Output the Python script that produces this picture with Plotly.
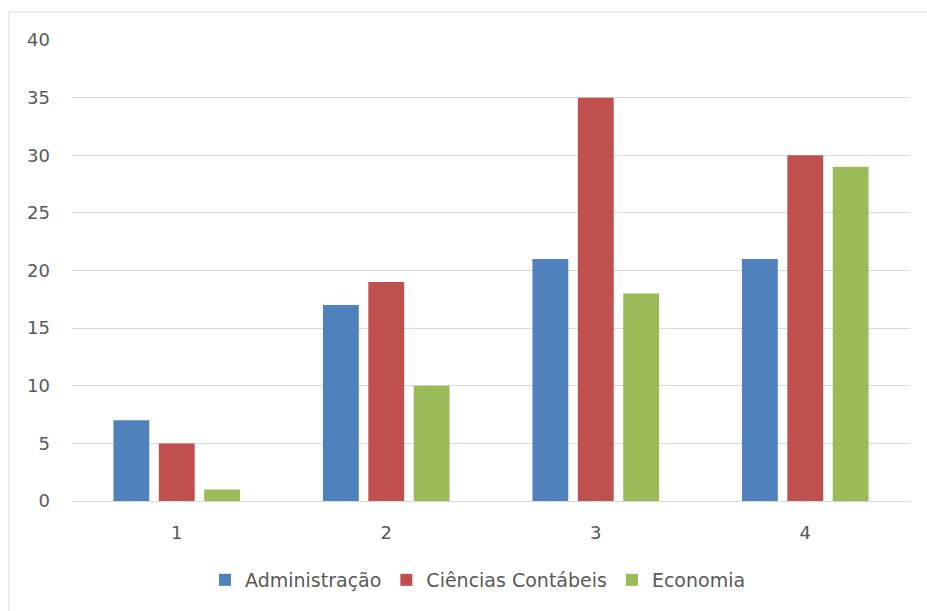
import plotly.graph_objects as go

categories = ["1", "2", "3", "4"]
administracao = [7, 17, 21, 21]
ciencias_contabeis = [5, 19, 35, 30]
economia = [1, 10, 18, 29]
y_ticks = [0, 5, 10, 15, 20, 25, 30, 35, 40]

series = [
    ("Administração", administracao, "#4F81BD"),
    ("Ciências Contábeis", ciencias_contabeis, "#C0504D"),
    ("Economia", economia, "#9BBB59"),
]

FONT = "DejaVu Sans"
TEXT = "#595959"
GRID = "#d9d9d9"

fig = go.Figure()
for name, vals, color in series:
    fig.add_trace(go.Bar(
        x=categories, y=vals, name=name,
        marker=dict(color=color, line=dict(color=color, width=0)),
    ))

W, H = 927, 611
L, R, T, B = 72, 17, 40, 110
pw, ph = W - L - R, H - T - B

def px_x(p):
    return (p - L) / pw

def px_y(p):
    return (H - B - p) / ph

fig.update_layout(
    width=W, height=H,
    margin=dict(l=L, r=R, t=T, b=B),
    paper_bgcolor="white", plot_bgcolor="white",
    barmode="group", bargap=0.35, bargroupgap=0.21,
    font=dict(family=FONT, size=18, color=TEXT),
    showlegend=True,
    legend=dict(
        orientation="h", x=px_x(478), xanchor="center",
        y=px_y(580), yanchor="middle",
        font=dict(family=FONT, size=19, color=TEXT),
        itemwidth=30,
    ),
    xaxis=dict(
        showgrid=False, showline=False, zeroline=False,
        ticks="", tickfont=dict(family=FONT, size=18, color=TEXT),
        ticklabelstandoff=19,
    ),
    yaxis=dict(
        range=[0, 40], tickvals=y_ticks,
        showgrid=True, gridcolor=GRID, gridwidth=1,
        zeroline=True, zerolinecolor=GRID, zerolinewidth=1,
        showline=False, ticks="",
        tickfont=dict(family=FONT, size=18, color=TEXT),
        ticklabelstandoff=21,
    ),
    shapes=[dict(
        type="rect", xref="paper", yref="paper",
        x0=px_x(9), x1=px_x(935), y0=px_y(620), y1=px_y(12),
        line=dict(color=GRID, width=1), fillcolor="rgba(0,0,0,0)",
        layer="below",
    )],
)

fig.write_html("out.html")
